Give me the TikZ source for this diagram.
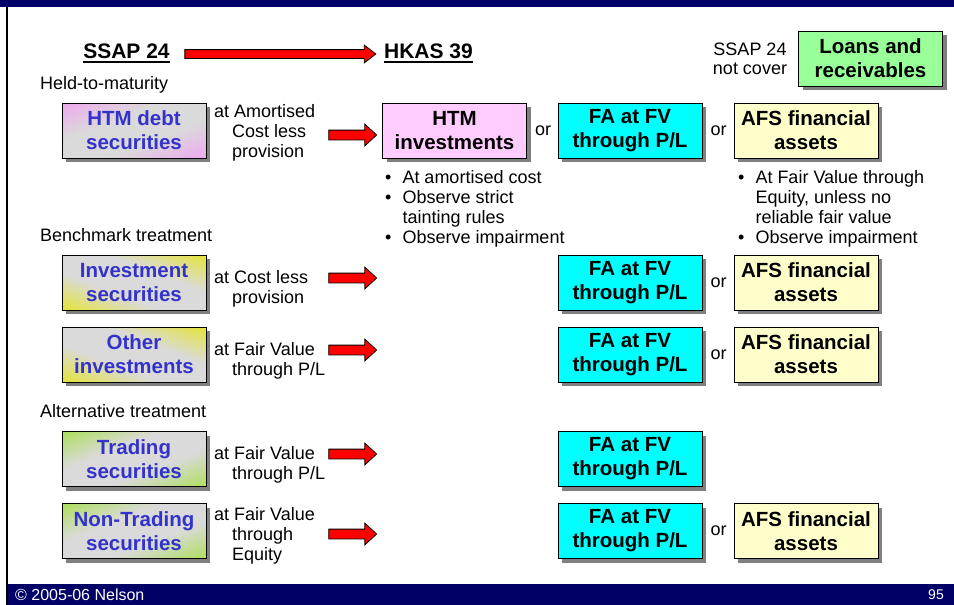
\documentclass[tikz,border=0pt]{standalone}
\usepackage{fontspec}
\setmainfont{Liberation Sans}
\usetikzlibrary{shapes.arrows, positioning, shadows}

\definecolor{navy}{RGB}{0,0,102}
\definecolor{txtblue}{RGB}{51,51,204}
\definecolor{midgray}{RGB}{218,218,218}
\definecolor{htmpink}{RGB}{255,204,255}
\definecolor{fvcyan}{RGB}{0,255,255}
\definecolor{afsyellow}{RGB}{255,255,204}
\definecolor{loangreen}{RGB}{153,255,153}
\definecolor{srcpink}{RGB}{238,170,238}
\definecolor{srcyellow}{RGB}{228,228,60}
\definecolor{srcgreen}{RGB}{175,222,95}
\colorlet{cornercol}{srcyellow}

% colour in two opposite corners, grey across the middle
\pgfdeclareverticalshading[cornercol,midgray]{cornerfade}{100bp}{
  color(0bp)=(cornercol); color(18bp)=(cornercol); color(40bp)=(midgray);
  color(60bp)=(midgray); color(82bp)=(cornercol); color(100bp)=(cornercol)}

\newcommand{\boxfont}{\fontsize{20.5}{24}\selectfont\bfseries}
\newcommand{\txtfont}{\fontsize{18}{20}\selectfont}
\newcommand{\txtlines}[1]{\begin{tabular}[t]{@{}l@{}}#1\end{tabular}}

\begin{document}
\begin{tikzpicture}[
    x=1pt, y=-1pt,
    box/.style={rectangle, draw, line width=1pt, minimum width=144pt, minimum height=55pt, inner sep=0pt, align=center, font=\boxfont,
      drop shadow={shadow xshift=4pt, shadow yshift=-4pt, fill=black!50, opacity=1}},
    src/.style 2 args={box, text=txtblue, /utils/exec={\colorlet{cornercol}{#1}}, shade, shading=cornerfade, shading angle=#2},
    dst/.style={box, fill=#1},
    heading/.style={inner xsep=0pt, inner ysep=3.5pt, font=\fontsize{21}{24}\selectfont\bfseries},
    label/.style={inner sep=0pt, font=\txtfont},
    ortext/.style={inner sep=0pt, font=\txtfont},
    redarrow/.style={single arrow, draw, fill=red, line width=0.8pt, inner sep=4.5pt, single arrow head extend=6pt, single arrow tip angle=85, minimum height=#1},
    bigarrow/.style={redarrow=#1, inner sep=4pt, single arrow head extend=4.5pt, single arrow tip angle=75}
]
\useasboundingbox (0,0) rectangle (954,605);

% Frame
\fill[navy] (0,0) rectangle (954,7);
\fill[navy] (8,584) rectangle (954,605);
\draw[line width=2pt] (7,7) -- (7,605);
\node[anchor=west, inner sep=0pt, text=white, font=\fontsize{16}{18}\selectfont] (copy) at (15,595) {\textcopyright{} 2005-06 Nelson};
\node[anchor=east, inner sep=0pt, text=white, font=\fontsize{14}{16}\selectfont] (page) at (944,595) {95};

% Headings
\node[heading, anchor=base] (ssap) at (126.5,58) {SSAP 24};
\node[heading, anchor=base] (hkas) at (428.5,58) {HKAS 39};
\draw[line width=1.6pt] (ssap.south west) -- (ssap.south east);
\draw[line width=1.6pt] (hkas.south west) -- (hkas.south east);
\node[bigarrow=191pt] (bigarr) at (277.5,54) {};

\node[label, anchor=base] (notcover) at (750,55) {\begin{tabular}[t]{@{}c@{}}SSAP 24\\not cover\end{tabular}};
\node[dst=loangreen] (loans) at (870.5,58.5) {Loans and\\receivables};

% Held-to-maturity
\node[label, anchor=base west] (held) at (40,89) {Held-to-maturity};
\node[src={srcpink}{21}] (htmdebt) at (134,130.5) {HTM debt\\securities};
\node[label, anchor=base west] (amort) at (214,117) {\txtlines{at Amortised\\\hspace*{18pt}Cost less\\\hspace*{18pt}provision}};
\node[redarrow=48pt] (arr1) at (350,135) {};
\node[dst=htmpink] (htminv) at (454.5,130.5) {HTM\\investments};
\node[ortext, right=8pt of htminv] (or1) {or};
\node[dst=fvcyan] (fv1) at (630,130.5) {FA at FV\\through P/L};
\node[ortext, right=8pt of fv1] (or2) {or};
\node[dst=afsyellow] (afs1) at (806,130.5) {AFS financial\\assets};

\node[label, anchor=base west] (htmnotes) at (385,183) {\begin{tabular}[t]{@{}l@{\hspace{11pt}}l@{}}
  \textbullet & At amortised cost\\
  \textbullet & Observe strict\\
              & tainting rules\\
  \textbullet & Observe impairment
\end{tabular}};
\node[label, anchor=base west] (afsnotes) at (738,183) {\begin{tabular}[t]{@{}l@{\hspace{11pt}}l@{}}
  \textbullet & At Fair Value through\\
              & Equity, unless no\\
              & reliable fair value\\
  \textbullet & Observe impairment
\end{tabular}};

% Benchmark treatment
\node[label, anchor=base west] (bench) at (40,241) {Benchmark treatment};
\node[src={srcyellow}{-21}] (invsec) at (134,282.5) {Investment\\securities};
\node[label, anchor=base west] (cost) at (214,283) {\txtlines{at Cost less\\\hspace*{18pt}provision}};
\node[redarrow=48pt] (arr2) at (350,278) {};
\node[dst=fvcyan] (fv2) at (630,282.5) {FA at FV\\through P/L};
\node[ortext, right=8pt of fv2] (or3) {or};
\node[dst=afsyellow] (afs2) at (806,282.5) {AFS financial\\assets};

\node[src={srcyellow}{-21}] (otherinv) at (134,354.5) {Other\\investments};
\node[label, anchor=base west] (fairpl) at (214,355) {\txtlines{at Fair Value\\\hspace*{18pt}through P/L}};
\node[redarrow=48pt] (arr3) at (350,350) {};
\node[dst=fvcyan] (fv3) at (630,354.5) {FA at FV\\through P/L};
\node[ortext, right=8pt of fv3] (or4) {or};
\node[dst=afsyellow] (afs3) at (806,354.5) {AFS financial\\assets};

% Alternative treatment
\node[label, anchor=base west] (alt) at (40,417) {Alternative treatment};
\node[src={srcgreen}{21}] (trading) at (134,459) {Trading\\securities};
\node[label, anchor=base west] (tradpl) at (214,459) {\txtlines{at Fair Value\\\hspace*{18pt}through P/L}};
\node[redarrow=48pt] (arr4) at (350,454) {};
\node[dst=fvcyan] (fv4) at (630,459) {FA at FV\\through P/L};

\node[src={srcgreen}{21}] (nontrading) at (134,531) {Non-Trading\\securities};
\node[label, anchor=base west] (faireq) at (214,520) {\txtlines{at Fair Value\\\hspace*{18pt}through\\\hspace*{18pt}Equity}};
\node[redarrow=48pt] (arr5) at (350,534) {};
\node[dst=fvcyan] (fv5) at (630,531) {FA at FV\\through P/L};
\node[ortext, right=8pt of fv5] (or5) {or};
\node[dst=afsyellow] (afs5) at (806,531) {AFS financial\\assets};

\end{tikzpicture}
\end{document}
